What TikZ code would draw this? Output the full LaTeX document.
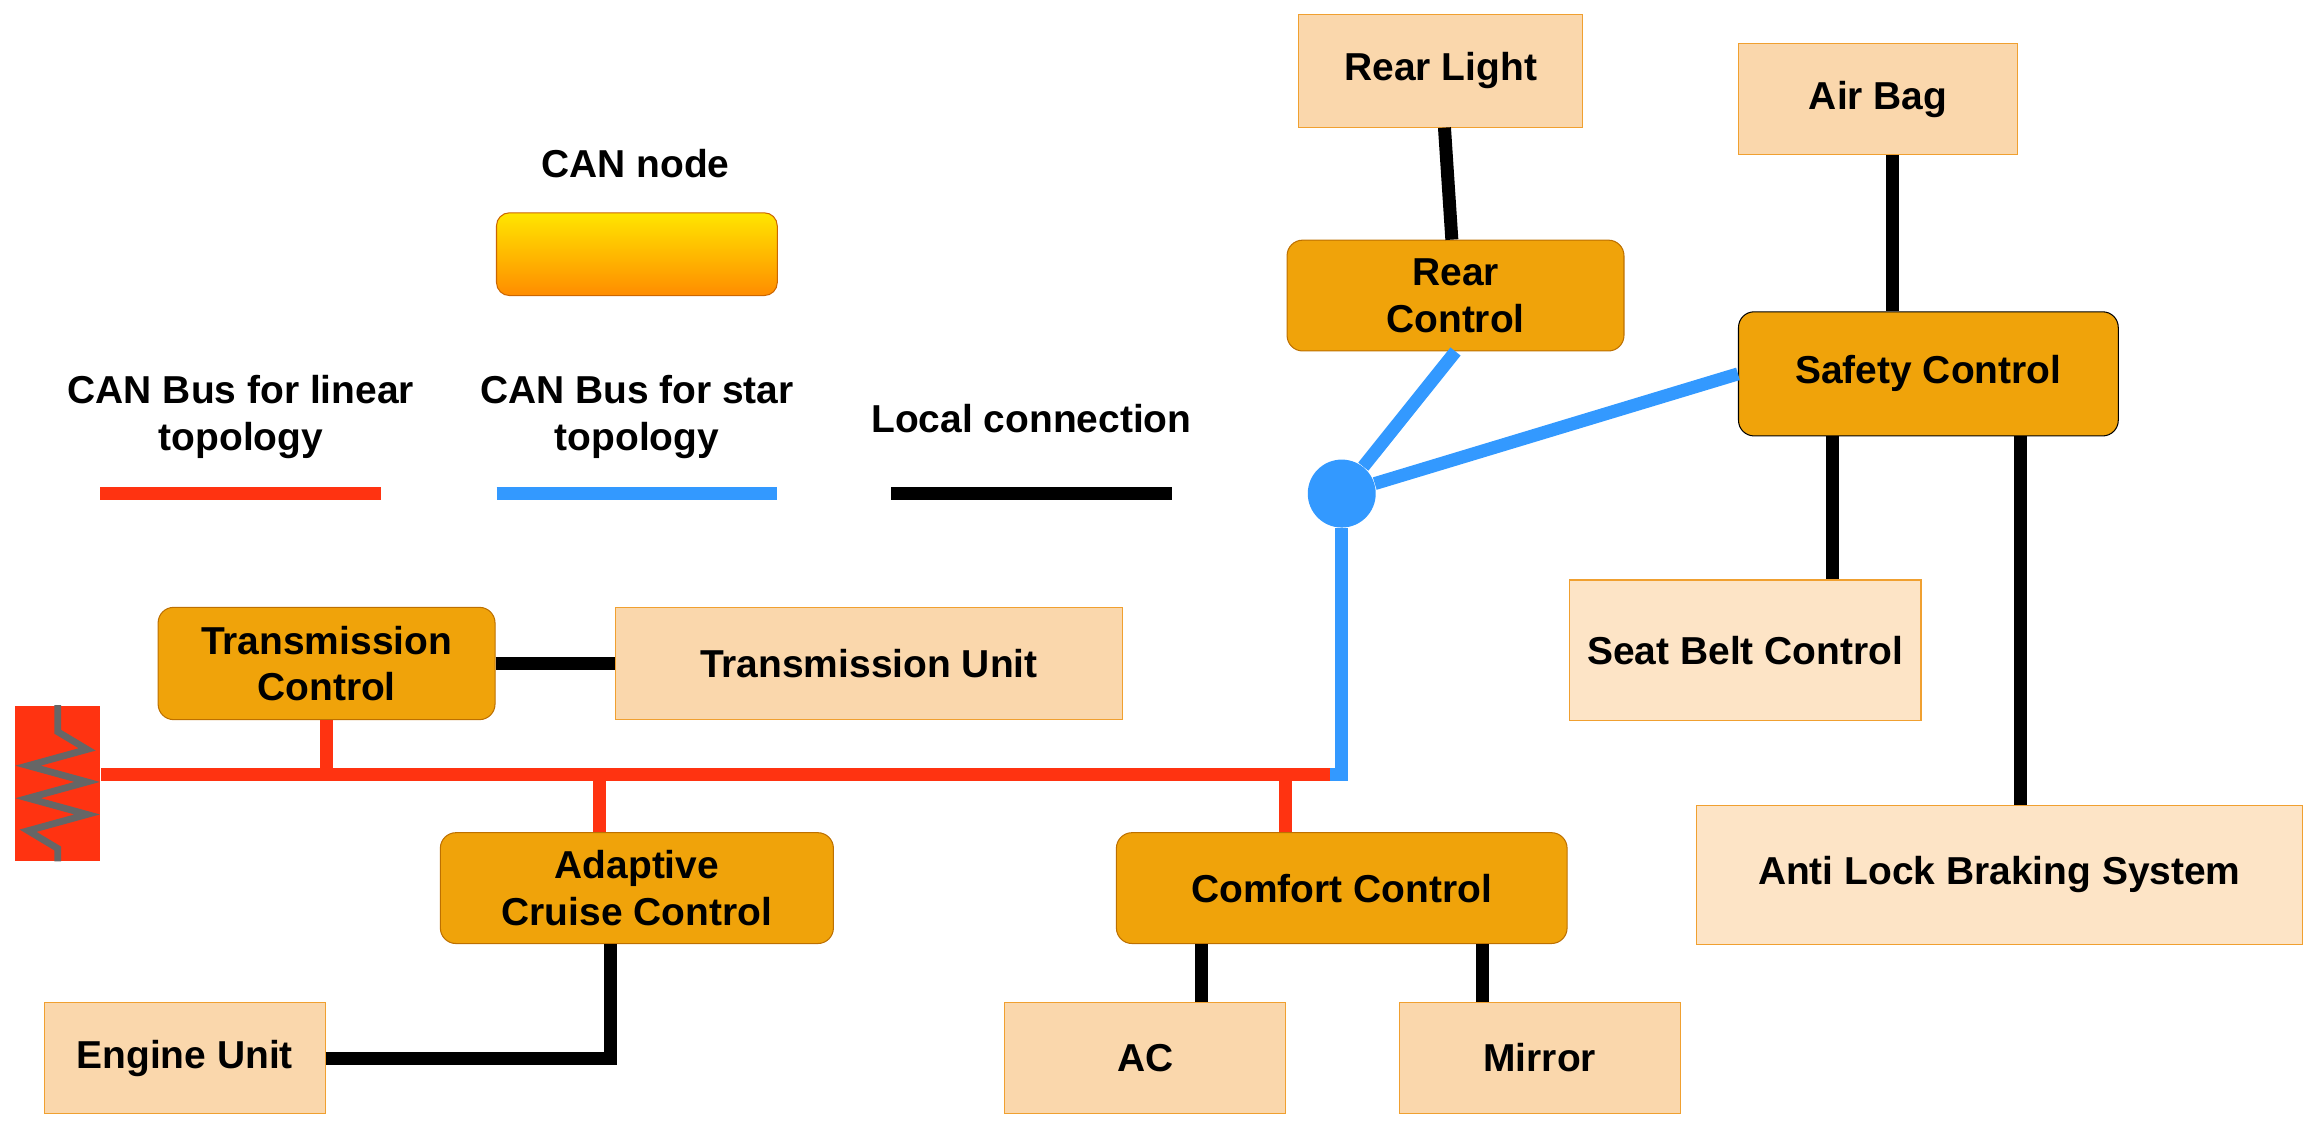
\documentclass[tikz,border=0pt]{standalone}
\usepackage{fontspec}
\setmainfont{Liberation Sans}
\usetikzlibrary{positioning}
\definecolor{ctrlfill}{HTML}{F0A30A}
\definecolor{ctrldraw}{HTML}{BD7000}
\definecolor{unitfill}{HTML}{FAD7AC}
\definecolor{unitdraw}{HTML}{F0A030}
\definecolor{beltfill}{HTML}{FDE4C6}
\definecolor{busred}{HTML}{FF3311}
\definecolor{busblue}{HTML}{3399FF}
\begin{document}
\begin{tikzpicture}[x=0.02cm, y=-0.02cm, font=\bfseries\fontsize{15}{18}\selectfont,
ctrl/.style = {draw=ctrldraw, fill=ctrlfill, rounded corners=6pt, align=center, inner sep=0pt},
unit/.style = {draw=unitdraw, fill=unitfill, align=center, inner sep=0pt},
loc/.style = {line width=5pt, black},
red/.style = {line width=5pt, busred},
blue/.style = {line width=5pt, busblue},
lbl/.style = {align=center}] 
\useasboundingbox (0,0) rectangle (1568,769);
% legend
\node[lbl] (canlbl) at (430,111) {CAN node};
\shade[top color=yellow!80!orange, bottom color=orange!90!yellow, rounded corners=5pt, draw=orange!80!black] (336,144) rectangle (526,200);
\node[lbl] (linlbl) at (163,282) {CAN Bus for linear\\topology};
\node[lbl] (starlbl) at (431,282) {CAN Bus for star\\topology};
\node[lbl] (loclbl) at (698,283) {Local connection};
\coordinate (l1a) at (68,334); \coordinate (l1b) at (258,334);
\coordinate (l2a) at (336,334); \coordinate (l2b) at (526,334);
\coordinate (l3a) at (603,334); \coordinate (l3b) at (793,334);
\draw[red] (l1a) -- (l1b);
\draw[blue] (l2a) -- (l2b);
\draw[loc] (l3a) -- (l3b);
% nodes
\node[unit, minimum width=192*0.02cm, minimum height=76*0.02cm] (rearlight) at (975,48) {Rear Light};
\node[unit, minimum width=189*0.02cm, minimum height=75*0.02cm] (airbag) at (1271,67) {Air Bag};
\node[ctrl, minimum width=228*0.02cm, minimum height=75*0.02cm] (rear) at (985,200) {Rear\\Control};
\node[ctrl, draw=black, minimum width=257*0.02cm, minimum height=84*0.02cm] (safety) at (1305,253) {Safety Control};
\node[unit, fill=beltfill, minimum width=238*0.02cm, minimum height=95*0.02cm] (belt) at (1181,440) {Seat Belt Control};
\node[unit, fill=beltfill, minimum width=410*0.02cm, minimum height=94*0.02cm] (abs) at (1353,592) {Anti Lock Braking System};
\node[ctrl, minimum width=228*0.02cm, minimum height=76*0.02cm] (trctrl) at (221,449) {Transmission\\Control};
\node[unit, minimum width=343*0.02cm, minimum height=76*0.02cm] (trunit) at (588,449) {Transmission Unit};
\node[ctrl, minimum width=266*0.02cm, minimum height=75*0.02cm] (acc) at (431,601) {Adaptive\\Cruise Control};
\node[ctrl, minimum width=305*0.02cm, minimum height=75*0.02cm] (comfort) at (908,601) {Comfort Control};
\node[unit, minimum width=190*0.02cm, minimum height=75*0.02cm] (engine) at (125,716) {Engine Unit};
\node[unit, minimum width=190*0.02cm, minimum height=75*0.02cm] (ac) at (775,716) {AC};
\node[unit, minimum width=190*0.02cm, minimum height=75*0.02cm] (mirror) at (1042,716) {Mirror};
\node[fill=busblue, circle, minimum size=46*0.02cm, inner sep=0pt] (hub) at (908,334) {};
% termination
\node[fill=busred, minimum width=58*0.02cm, minimum height=105*0.02cm, inner sep=0pt] (term) at (39,530) {};
\draw[line width=2.6pt, black!60] (term.north) -- ++(0,18) -- ++(20,12) -- ++(-40,11) -- ++(40,11) -- ++(-40,11) -- ++(40,11) -- ++(-40,11) -- ++(20,12) -- (term.south);
% buses
\coordinate (busend) at (908,524);
\draw[red] (term.east |- busend) -- (busend);
\draw[red] (trctrl.south) -- (trctrl.south |- busend);
\draw[red] (acc.north -| 406,0) -- (406,524);
\draw[red] (comfort.north -| 870,0) -- (870,524);
\draw[blue, line join=miter] (hub) -- (busend) -- ++(-8,0);
\draw[blue] (hub) -- (rear.south);
\draw[blue] (hub) -- (safety.west);
% local connections
\draw[loc] (rearlight) -- (rear);
\draw[loc] (airbag.south -| 1281,0) -- (safety.north -| 1281,0);
\draw[loc] (safety.south -| 1240,0) -- (belt.north -| 1240,0);
\draw[loc] (safety.south -| 1367,0) -- (abs.north -| 1367,0);
\draw[loc] (trctrl) -- (trunit);
\draw[loc, line join=miter] (engine.east) -| (acc.south -| 413,0);
\draw[loc] (comfort.south -| 813,0) -- (ac.north -| 813,0);
\draw[loc] (comfort.south -| 1003,0) -- (mirror.north -| 1003,0);
\end{tikzpicture}
\end{document}
